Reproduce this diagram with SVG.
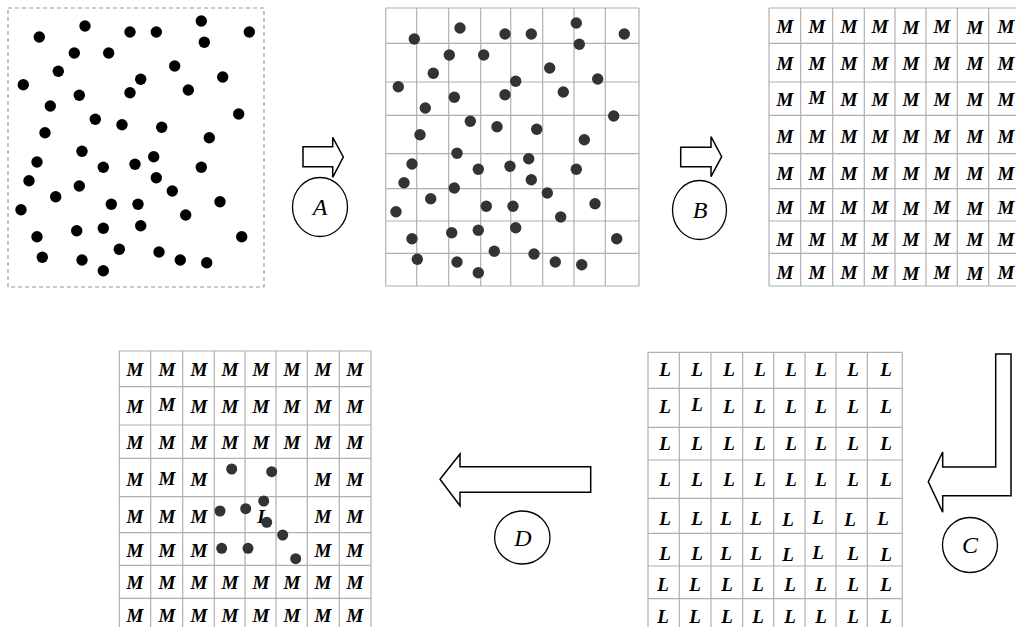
<svg xmlns="http://www.w3.org/2000/svg" xmlns:xlink="http://www.w3.org/1999/xlink" width="1016" height="627" viewBox="0 0 1016 627">
<style>
.grid{fill:none;stroke:#b0b0b0;stroke-width:1.2}
.arrow{fill:#fff;stroke:#000;stroke-width:1.5;stroke-linejoin:miter}
.circ{fill:#fff;stroke:#000;stroke-width:1.3}
.lab{font-family:"Liberation Serif",serif;font-style:italic;font-size:24px;text-anchor:middle;fill:#000}
.m text{font-family:"Liberation Serif",serif;font-style:italic;font-weight:bold;font-size:19px;text-anchor:middle;fill:#000}
.d1{fill:#000}
.d2{fill:#333}
</style>
<defs>
<g id="dots">
<circle cx="39.3" cy="37" r="5.7"/><circle cx="85" cy="26" r="5.7"/><circle cx="130" cy="32" r="5.7"/><circle cx="156.3" cy="32" r="5.7"/><circle cx="201.3" cy="21" r="5.7"/><circle cx="249.3" cy="32" r="5.7"/><circle cx="204.3" cy="42.3" r="5.7"/><circle cx="74.3" cy="53" r="5.7"/><circle cx="108.7" cy="53" r="5.7"/><circle cx="58.3" cy="71.3" r="5.7"/><circle cx="174.7" cy="66" r="5.7"/><circle cx="23.3" cy="84.7" r="5.7"/><circle cx="140.7" cy="79.3" r="5.7"/><circle cx="222.7" cy="77" r="5.7"/><circle cx="79.3" cy="95.3" r="5.7"/><circle cx="130" cy="92.7" r="5.7"/><circle cx="188.3" cy="90" r="5.7"/><circle cx="50.3" cy="106" r="5.7"/><circle cx="95.3" cy="119.3" r="5.7"/><circle cx="122" cy="124.7" r="5.7"/><circle cx="161.7" cy="127.3" r="5.7"/><circle cx="238.7" cy="114" r="5.7"/><circle cx="45" cy="132.7" r="5.7"/><circle cx="209.3" cy="137.7" r="5.7"/><circle cx="82" cy="151.3" r="5.7"/><circle cx="153.7" cy="156.7" r="5.7"/><circle cx="37" cy="162" r="5.7"/><circle cx="103.3" cy="167.3" r="5.7"/><circle cx="135" cy="164.3" r="5.7"/><circle cx="201.3" cy="167.3" r="5.7"/><circle cx="29" cy="180.7" r="5.7"/><circle cx="79.3" cy="186" r="5.7"/><circle cx="156.3" cy="177.7" r="5.7"/><circle cx="172.3" cy="191" r="5.7"/><circle cx="55.7" cy="196.7" r="5.7"/><circle cx="21" cy="209.7" r="5.7"/><circle cx="111.3" cy="204.3" r="5.7"/><circle cx="138" cy="204.3" r="5.7"/><circle cx="220" cy="201.7" r="5.7"/><circle cx="185.7" cy="215" r="5.7"/><circle cx="37" cy="236.7" r="5.7"/><circle cx="76.7" cy="230.7" r="5.7"/><circle cx="103.3" cy="228.3" r="5.7"/><circle cx="140.7" cy="225.7" r="5.7"/><circle cx="241.7" cy="236.7" r="5.7"/><circle cx="42.3" cy="257.3" r="5.7"/><circle cx="82" cy="260" r="5.7"/><circle cx="119.3" cy="249.3" r="5.7"/><circle cx="159" cy="252" r="5.7"/><circle cx="180.3" cy="260" r="5.7"/><circle cx="206.7" cy="262.7" r="5.7"/><circle cx="103.3" cy="270.7" r="5.7"/>
</g>
</defs>
<rect width="1016" height="627" fill="#fff"/>

<g id="panel1">
<rect x="8" y="8" width="256" height="279" fill="none" stroke="#999" stroke-width="1.2" stroke-dasharray="4,3"/>
<use xlink:href="#dots" class="d1"/>
</g>

<g id="panel2">
<path class="grid" d="M385.7,8V286M416.7,8V286M448.7,8V286M480.7,8V286M510.7,8V286M542.7,8V286M574,8V286M605.3,8V286M639,8V286M385.7,8H639M385.7,43.3H639M385.7,82H639M385.7,115.3H639M385.7,153.7H639M385.7,188.7H639M385.7,221H639M385.7,253.3H639M385.7,286H639"/>
<use xlink:href="#dots" class="d2" transform="translate(375,2)"/>
</g>

<g id="panel3">
<path class="grid" d="M769,8V286M800.7,8V286M832.7,8V286M864.3,8V286M895,8V286M926,8V286M957.3,8V286M988.7,8V286M1020.7,8V286M769,8H1021M769,43.3H1021M769,82H1021M769,115.3H1021M769,153.7H1021M769,188.7H1021M769,221H1021M769,253.3H1021M769,286H1021"/>
<g class="m">
<text x="785" y="33">M</text><text x="817" y="33">M</text><text x="849" y="33">M</text><text x="880" y="33">M</text><text x="911" y="34">M</text><text x="942" y="33">M</text><text x="975" y="34">M</text><text x="1006" y="33">M</text>
<text x="785" y="70">M</text><text x="817" y="70">M</text><text x="849" y="70">M</text><text x="880" y="70">M</text><text x="911" y="70">M</text><text x="942" y="70">M</text><text x="975" y="70">M</text><text x="1006" y="70">M</text>
<text x="785" y="106">M</text><text x="817" y="104">M</text><text x="849" y="106">M</text><text x="880" y="106">M</text><text x="911" y="106">M</text><text x="942" y="106">M</text><text x="975" y="106">M</text><text x="1006" y="106">M</text>
<text x="785" y="143">M</text><text x="817" y="143">M</text><text x="849" y="143">M</text><text x="880" y="143">M</text><text x="911" y="143">M</text><text x="942" y="143">M</text><text x="975" y="143">M</text><text x="1006" y="143">M</text>
<text x="785" y="180">M</text><text x="817" y="180">M</text><text x="849" y="180">M</text><text x="880" y="180">M</text><text x="911" y="180">M</text><text x="942" y="180">M</text><text x="975" y="180">M</text><text x="1006" y="180">M</text>
<text x="785" y="214">M</text><text x="817" y="214">M</text><text x="849" y="214">M</text><text x="880" y="214">M</text><text x="911" y="215">M</text><text x="942" y="214">M</text><text x="975" y="215">M</text><text x="1006" y="214">M</text>
<text x="785" y="246">M</text><text x="817" y="246">M</text><text x="849" y="246">M</text><text x="880" y="246">M</text><text x="911" y="246">M</text><text x="942" y="246">M</text><text x="975" y="246">M</text><text x="1006" y="246">M</text>
<text x="785" y="279">M</text><text x="817" y="279">M</text><text x="849" y="279">M</text><text x="880" y="279">M</text><text x="911" y="280">M</text><text x="942" y="279">M</text><text x="975" y="280">M</text><text x="1006" y="279">M</text>
</g>
</g>

<g id="panel4">
<path class="grid" d="M648,352.3V632M679.3,352.3V632M711,352.3V632M742.7,352.3V632M773.7,352.3V632M805,352.3V632M836,352.3V632M867.3,352.3V632M902.3,352.3V632M648,352.3H902.3M648,388.3H902.3M648,427.3H902.3M648,460H902.3M648,498.3H902.3M648,533.3H902.3M648,566H902.3M648,598.7H902.3"/>
<g class="m">
<text x="665" y="376">L</text><text x="697" y="376">L</text><text x="729" y="376">L</text><text x="760" y="376">L</text><text x="791" y="376">L</text><text x="821" y="376">L</text><text x="853" y="376">L</text><text x="886" y="376">L</text>
<text x="665" y="413">L</text><text x="697" y="411">L</text><text x="729" y="413">L</text><text x="760" y="413">L</text><text x="791" y="413">L</text><text x="821" y="413">L</text><text x="853" y="413">L</text><text x="886" y="413">L</text>
<text x="665" y="450">L</text><text x="697" y="450">L</text><text x="729" y="450">L</text><text x="760" y="450">L</text><text x="791" y="450">L</text><text x="821" y="450">L</text><text x="853" y="450">L</text><text x="886" y="450">L</text>
<text x="665" y="486">L</text><text x="697" y="486">L</text><text x="729" y="486">L</text><text x="760" y="486">L</text><text x="791" y="486">L</text><text x="821" y="486">L</text><text x="853" y="486">L</text><text x="886" y="486">L</text>
<text x="665" y="525">L</text><text x="697" y="525">L</text><text x="726" y="525">L</text><text x="756" y="525">L</text><text x="788" y="526">L</text><text x="818" y="524">L</text><text x="850" y="526">L</text><text x="883" y="525">L</text>
<text x="665" y="560">L</text><text x="697" y="560">L</text><text x="726" y="560">L</text><text x="756" y="560">L</text><text x="788" y="561">L</text><text x="818" y="559">L</text><text x="853" y="560">L</text><text x="886" y="561">L</text>
<text x="663" y="591">L</text><text x="695" y="591">L</text><text x="727" y="591">L</text><text x="758" y="591">L</text><text x="790" y="591">L</text><text x="821" y="591">L</text><text x="853" y="591">L</text><text x="886" y="591">L</text>
<text x="663" y="623">L</text><text x="695" y="623">L</text><text x="727" y="623">L</text><text x="758" y="623">L</text><text x="790" y="623">L</text><text x="821" y="623">L</text><text x="853" y="623">L</text><text x="886" y="623">L</text>
</g>
</g>

<g id="panel5">
<path class="grid" d="M119.3,351V632M150.7,351V632M182.7,351V632M214.3,351V632M245,351V632M276,351V632M307.3,351V632M339.3,351V632M371,351V632M119.3,351H371M119.3,386.7H371M119.3,425H371M119.3,458.3H371M119.3,496.7H371M119.3,532.7H371M119.3,565.3H371M119.3,598.3H371"/>
<g class="m">
<text x="135" y="376">M</text><text x="167" y="376">M</text><text x="199" y="376">M</text><text x="230" y="376">M</text><text x="261" y="376">M</text><text x="292" y="376">M</text><text x="323" y="376">M</text><text x="355" y="376">M</text>
<text x="135" y="413">M</text><text x="167" y="411">M</text><text x="199" y="413">M</text><text x="230" y="413">M</text><text x="261" y="413">M</text><text x="292" y="413">M</text><text x="323" y="413">M</text><text x="355" y="413">M</text>
<text x="135" y="449">M</text><text x="167" y="449">M</text><text x="199" y="449">M</text><text x="230" y="449">M</text><text x="261" y="449">M</text><text x="292" y="449">M</text><text x="323" y="449">M</text><text x="355" y="449">M</text>
<text x="135" y="486">M</text><text x="167" y="485">M</text><text x="199" y="486">M</text><text x="323" y="486">M</text><text x="355" y="486">M</text>
<text x="135" y="523">M</text><text x="167" y="523">M</text><text x="199" y="523">M</text><text x="323" y="523">M</text><text x="355" y="523">M</text>
<text x="135" y="557">M</text><text x="167" y="557">M</text><text x="199" y="557">M</text><text x="323" y="557">M</text><text x="355" y="557">M</text>
<text x="135" y="589">M</text><text x="167" y="589">M</text><text x="199" y="589">M</text><text x="230" y="589">M</text><text x="261" y="589">M</text><text x="292" y="589">M</text><text x="323" y="589">M</text><text x="355" y="589">M</text>
<text x="135" y="622">M</text><text x="167" y="622">M</text><text x="199" y="622">M</text><text x="230" y="622">M</text><text x="261" y="622">M</text><text x="292" y="622">M</text><text x="323" y="622">M</text><text x="355" y="622">M</text>
<text x="263" y="522.5">L</text>
</g>
<g class="d2">
<circle cx="231.7" cy="469" r="5.5"/><circle cx="271.7" cy="471.7" r="5.5"/><circle cx="220" cy="511" r="5.5"/><circle cx="245.7" cy="508.7" r="5.5"/><circle cx="263.7" cy="501" r="5.5"/><circle cx="266.7" cy="522.3" r="5.5"/><circle cx="282.7" cy="535" r="5.5"/><circle cx="221.7" cy="548.3" r="5.5"/><circle cx="248" cy="548.3" r="5.5"/><circle cx="295.7" cy="558.7" r="5.5"/>
</g>
</g>

<g id="connectors">
<g id="stepA">
<polygon class="arrow" points="303,146.7 332.7,146.7 332.7,137.3 343.3,157 332.7,177.3 332.7,166.7 303,166.7"/>
<ellipse class="circ" cx="320" cy="207" rx="27.5" ry="29.5"/>
<text class="lab" x="320" y="215">A</text>
</g>
<g id="stepB">
<polygon class="arrow" points="680.7,147.3 711,147.3 711,136.7 721.7,156.7 711,176.7 711,166.7 680.7,166.7"/>
<ellipse class="circ" cx="699.5" cy="210" rx="27" ry="29.5"/>
<text class="lab" x="700" y="218">B</text>
</g>
<g id="stepC">
<polygon class="arrow" points="995.7,354 1011,354 1011,495.7 942.7,495.7 942.7,512.3 928.3,481.7 942.7,452 942.7,467 995.7,467"/>
<circle class="circ" cx="970" cy="545" r="27.5"/>
<text class="lab" x="970" y="553">C</text>
</g>
<g id="stepD">
<polygon class="arrow" points="590.7,466.7 460,466.7 460,454 440,479.3 460,505.7 460,492.3 590.7,492.3"/>
<ellipse class="circ" cx="522.3" cy="537.5" rx="27.7" ry="26.5"/>
<text class="lab" x="523" y="545.5">D</text>
</g>
</g>
</svg>
